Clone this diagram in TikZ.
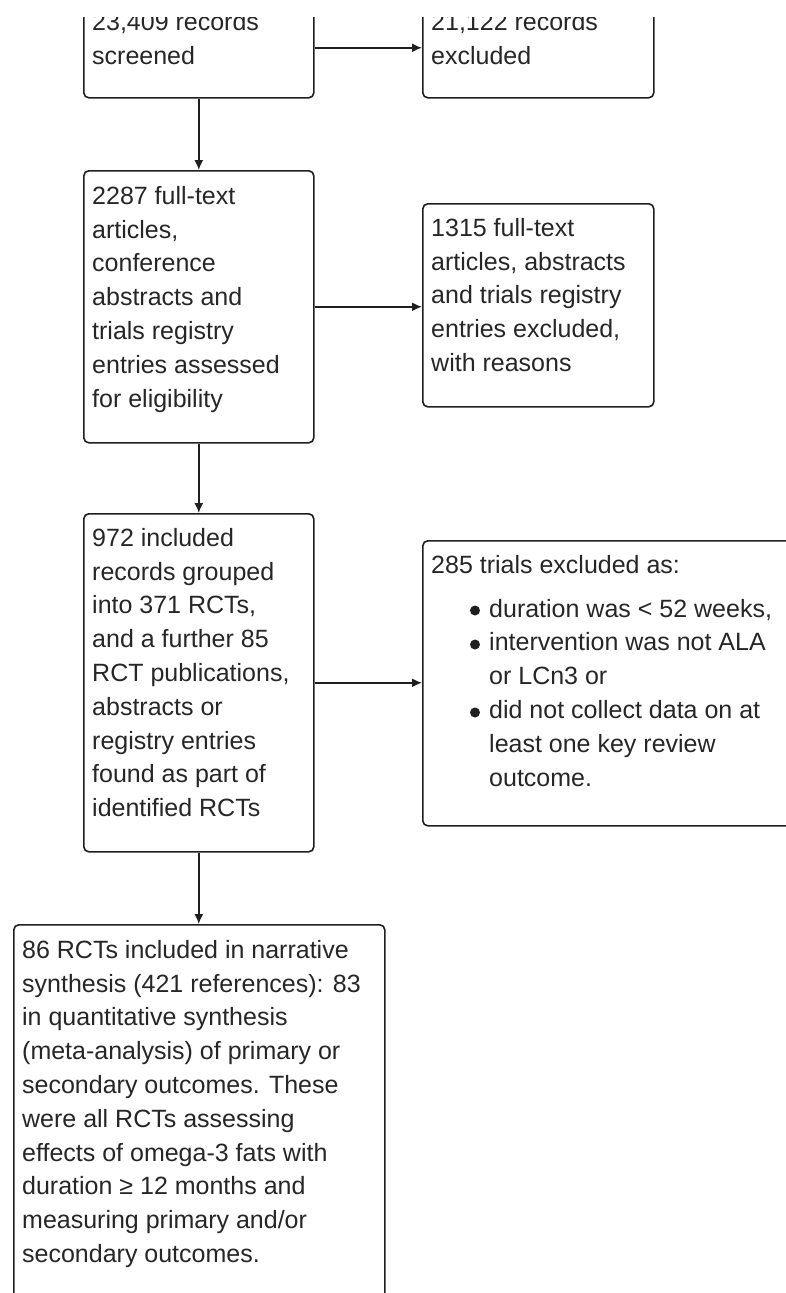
\documentclass[tikz,border=0pt]{standalone}
\usepackage{fontspec}
\setmainfont{Liberation Sans}
\usetikzlibrary{arrows.meta,calc}
\tikzset{
  box/.style={draw=black!88, line width=1.6pt, rounded corners=5pt, anchor=north west, inner sep=0pt},
  txt/.style={anchor=north west, inner sep=0pt, align=left, font=\fontsize{25}{33.8}\selectfont, text=black!85},
  arr/.style={draw=black!88, line width=1.6pt, -{Latex[length=10pt,width=9pt]}},
  bul/.style={fill=black!88}
}
\newcommand\fl{\rule{0pt}{20pt}}
\begin{document}
\begin{tikzpicture}[x=1pt,y=-1pt]
\useasboundingbox (0,0) rectangle (786,1293);
\clip (0,17) rectangle (786,1293);
% boxes
\node[box, minimum width=230pt, minimum height=100pt] (A) at (83,-3) {};
\node[box, minimum width=231pt, minimum height=100pt] (B) at (422,-3) {};
\node[box, minimum width=230pt, minimum height=272pt] (C) at (83,170) {};
\node[box, minimum width=231pt, minimum height=203pt] (D) at (422,203) {};
\node[box, minimum width=230pt, minimum height=338pt] (E) at (83,513) {};
\node[box, minimum width=400pt, minimum height=285pt] (F) at (422,540) {};
\node[box, minimum width=371pt, minimum height=400pt] (G) at (13,924) {};
% texts
\node[txt] (tA) at ([shift={(9,13)}]A.north west) {\fl 23,409 records\\screened};
\node[txt] (tB) at ([shift={(9,13)}]B.north west) {\fl 21,122 records\\excluded};
\node[txt] (tC) at ([shift={(9,14)}]C.north west) {\fl 2287 full-text\\articles,\\conference\\abstracts and\\trials registry\\entries assessed\\for eligibility};
\node[txt] (tD) at ([shift={(9,13)}]D.north west) {\fl 1315 full-text\\articles, abstracts\\and trials registry\\entries excluded,\\with reasons};
\node[txt] (tE) at ([shift={(9,13)}]E.north west) {\fl 972 included\\records grouped\\into 371 RCTs,\\and a further 85\\RCT publications,\\abstracts or\\registry entries\\found as part of\\identified RCTs};
\node[txt] (tF) at ([shift={(9,13)}]F.north west) {\fl 285 trials excluded as:\\[10pt]
\hspace*{58pt}duration was < 52 weeks,\\
\hspace*{58pt}intervention was not ALA\\
\hspace*{58pt}or LCn3 or\\
\hspace*{58pt}did not collect data on at\\
\hspace*{58pt}least one key review\\
\hspace*{58pt}outcome.};
\node[txt] (tG) at ([shift={(9,14)}]G.north west) {\fl 86 RCTs included in narrative\\synthesis (421 references): 83\\in quantitative synthesis\\(meta-analysis) of primary or\\secondary outcomes. These\\were all RCTs assessing\\effects of omega-3 fats with\\duration ≥ 12 months and\\measuring primary and/or\\secondary outcomes.};
% bullets
\fill[bul] ([shift={(53,70.5)}]F.north west) circle (5pt);
\fill[bul] ([shift={(53,104.5)}]F.north west) circle (5pt);
\fill[bul] ([shift={(53,172.5)}]F.north west) circle (5pt);
% connectors
\draw[arr] (A.east) -- (A.east -| B.west);
\draw[arr] (C.east) -- (C.east -| D.west);
\draw[arr] (E.east) -- (E.east -| F.west);
\draw[arr] (A.south) -- (A.south |- C.north);
\draw[arr] (C.south) -- (E.north);
\draw[arr] (E.south) -- (E.south |- G.north);
\end{tikzpicture}
\end{document}
